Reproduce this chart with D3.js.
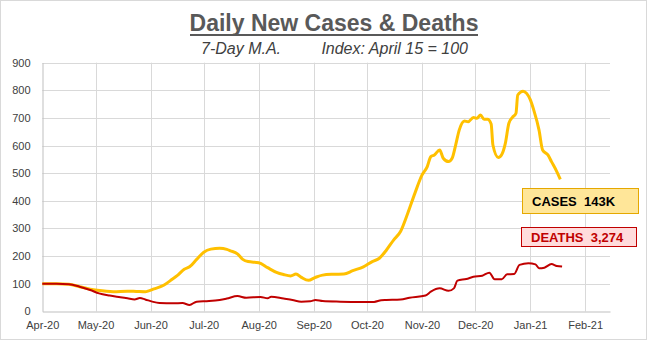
<!DOCTYPE html>
<html><head><meta charset="utf-8">
<script src="https://cdn.jsdelivr.net/npm/d3@7"></script>
<style>body{margin:0;background:#fff}svg{display:block}</style>
</head><body><svg id="c" width="647" height="340"></svg>
<script>
const casesDates = ["2020-04-01","2020-04-09","2020-04-16","2020-04-22","2020-04-28","2020-05-02","2020-05-11","2020-05-19","2020-05-24","2020-05-29","2020-05-31","2020-06-03","2020-06-07","2020-06-10","2020-06-13","2020-06-16","2020-06-20","2020-06-23","2020-06-27","2020-07-01","2020-07-05","2020-07-10","2020-07-14","2020-07-16","2020-07-20","2020-07-23","2020-07-26","2020-08-01","2020-08-06","2020-08-11","2020-08-15","2020-08-19","2020-08-22","2020-08-25","2020-08-29","2020-09-02","2020-09-06","2020-09-12","2020-09-18","2020-09-23","2020-09-29","2020-10-04","2020-10-08","2020-10-12","2020-10-16","2020-10-20","2020-10-24","2020-10-28","2020-11-01","2020-11-04","2020-11-06","2020-11-08","2020-11-11","2020-11-13","2020-11-16","2020-11-18","2020-11-20","2020-11-22","2020-11-25","2020-11-27","2020-11-30","2020-12-02","2020-12-04","2020-12-06","2020-12-08","2020-12-10","2020-12-11","2020-12-14","2020-12-16","2020-12-18","2020-12-20","2020-12-22","2020-12-24","2020-12-25","2020-12-28","2020-12-30","2021-01-01","2021-01-03","2021-01-06","2021-01-08","2021-01-11","2021-01-13","2021-01-16","2021-01-18"];
const casesValues = [100,100,98,89,80,76,71,73,72,71,74,81,90,101,115,129,152,161,188,214,225,228,224,219,208,188,180,176,158,141,133,128,135,123,112,123,131,134,135,147,161,180,192,222,258,290,355,427,493,524,560,566,584,554,542,554,602,656,689,686,702,699,711,695,695,678,602,557,568,608,681,702,717,783,797,789,767,729,656,584,566,542,506,478];

const deathsDates = ["2020-04-01","2020-04-09","2020-04-16","2020-04-22","2020-04-28","2020-05-03","2020-05-09","2020-05-15","2020-05-19","2020-05-23","2020-05-26","2020-05-29","2020-06-02","2020-06-06","2020-06-14","2020-06-19","2020-06-23","2020-06-27","2020-07-04","2020-07-10","2020-07-14","2020-07-20","2020-07-25","2020-08-02","2020-08-06","2020-08-08","2020-08-15","2020-08-20","2020-08-25","2020-08-30","2020-09-02","2020-09-06","2020-09-16","2020-09-27","2020-10-05","2020-10-09","2020-10-12","2020-10-20","2020-10-25","2020-11-03","2020-11-06","2020-11-11","2020-11-16","2020-11-19","2020-11-21","2020-11-26","2020-11-30","2020-12-05","2020-12-09","2020-12-12","2020-12-16","2020-12-19","2020-12-23","2020-12-26","2020-12-31","2021-01-04","2021-01-06","2021-01-09","2021-01-13","2021-01-16","2021-01-19"];
const deathsValues = [100,100,98,89,77,65,57,51,47,43,48,43,35,30,29,30,23,35,37,41,46,55,49,52,47,53,46,41,35,36,41,37,35,34,34,40,41,43,49,57,71,83,74,83,111,117,125,129,140,116,116,134,135,168,174,170,156,158,171,164,162];

const monthTicks = ["2020-04-01","2020-05-01","2020-06-01","2020-07-01","2020-08-01","2020-09-01","2020-10-01","2020-11-01","2020-12-01","2021-01-01","2021-02-01"];
const yTicks = [0,100,200,300,400,500,600,700,800,900];
const titleText = "Daily New Cases & Deaths";
const subtitleLeft = "7-Day M.A.";
const subtitleRight = "Index: April 15 = 100";
const casesLabel = "CASES  143K";
const deathsLabel = "DEATHS  3,274";

const parse = d3.utcParse("%Y-%m-%d");
const svg = d3.select("#c");
const W = 647, H = 340;
const m = {left: 42.3, right: 610, top: 62.7, bottom: 311.3};

svg.append("rect").attr("x",0.5).attr("y",0.5).attr("width",W-1).attr("height",H-1)
  .attr("fill","#fff").attr("stroke","#d9d9d9");

const x = d3.scaleUtc().domain([parse("2020-04-01"), parse("2021-02-15")]).range([m.left, m.right]);
const y = d3.scaleLinear().domain([0,900]).range([m.bottom, m.top]);

// grid
svg.append("g").selectAll("line").data(yTicks.slice(1)).join("line")
  .attr("x1",m.left).attr("x2",m.right).attr("y1",d=>Math.round(y(d))+0.5).attr("y2",d=>Math.round(y(d))+0.5)
  .attr("stroke","#d9d9d9");
svg.append("g").selectAll("line").data(monthTicks.slice(1)).join("line")
  .attr("x1",d=>Math.round(x(parse(d)))+0.5).attr("x2",d=>Math.round(x(parse(d)))+0.5)
  .attr("y1",m.top).attr("y2",m.bottom).attr("stroke","#d9d9d9");

// axes
const yAxis = d3.axisLeft(y).tickValues(yTicks).tickSize(0).tickPadding(12);
const gy = svg.append("g").attr("transform",`translate(${Math.round(m.left)+0.5},0)`).call(yAxis);
gy.select(".domain").attr("stroke","#bfbfbf");
gy.selectAll("text").attr("font-family","Liberation Sans, Arial, sans-serif").attr("font-size",11).attr("fill","#404040");

const xAxis = d3.axisBottom(x).tickValues(monthTicks.map(parse)).tickFormat(d3.utcFormat("%b-%y")).tickSize(0).tickPadding(10);
const gx = svg.append("g").attr("transform",`translate(0,${Math.round(m.bottom)+0.5})`).call(xAxis);
gx.select(".domain").attr("stroke","#bfbfbf");
gx.selectAll("text").attr("font-family","Liberation Sans, Arial, sans-serif").attr("font-size",11).attr("fill","#404040");

// lines
const line = d3.line().x(d=>x(d[0])).y(d=>y(d[1])).curve(d3.curveMonotoneX);
const casesData = casesDates.map((d,i)=>[parse(d),casesValues[i]]);
const deathsData = deathsDates.map((d,i)=>[parse(d),deathsValues[i]]);
svg.append("path").attr("d",line(casesData)).attr("fill","none").attr("stroke","#FFC000").attr("stroke-width",3).attr("stroke-linejoin","round");
svg.append("path").attr("d",line(deathsData)).attr("fill","none").attr("stroke","#C00000").attr("stroke-width",2).attr("stroke-linejoin","round");

// title
svg.append("text").attr("x",334).attr("y",31).attr("text-anchor","middle")
  .attr("font-family","Liberation Sans, Arial, sans-serif").attr("font-weight","bold").attr("font-size",23)
  .attr("fill","#595959").text(titleText);
svg.append("line").attr("x1",190).attr("x2",478).attr("y1",35).attr("y2",35).attr("stroke","#595959").attr("stroke-width",2);
svg.append("text").attr("x",201).attr("y",54)
  .attr("font-family","Liberation Sans, Arial, sans-serif").attr("font-style","italic").attr("font-size",16)
  .attr("fill","#404040").text(subtitleLeft);
svg.append("text").attr("x",468).attr("y",54).attr("text-anchor","end")
  .attr("font-family","Liberation Sans, Arial, sans-serif").attr("font-style","italic").attr("font-size",16)
  .attr("fill","#404040").text(subtitleRight);

// labels
svg.append("rect").attr("x",522.5).attr("y",188.5).attr("width",116).attr("height",25)
  .attr("fill","#FFE699").attr("stroke","#E5A800");
svg.append("text").attr("x",532).attr("y",206).attr("font-family","Liberation Sans, Arial, sans-serif")
  .attr("font-weight","bold").attr("font-size",13).attr("fill","#000").attr("xml:space","preserve").style("white-space","pre").text(casesLabel);
svg.append("rect").attr("x",521.5).attr("y",227.5).attr("width",115).attr("height",19)
  .attr("fill","#FFDCDC").attr("stroke","#C00000");
svg.append("text").attr("x",531).attr("y",242).attr("font-family","Liberation Sans, Arial, sans-serif")
  .attr("font-weight","bold").attr("font-size",13).attr("fill","#C00000").style("white-space","pre").text(deathsLabel);
</script></body></html>
